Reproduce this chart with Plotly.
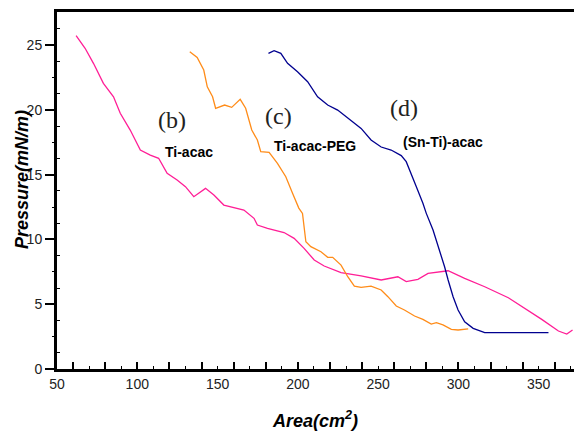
import plotly.graph_objects as go

# Ti-acac (b) - magenta
b_x = [61.9, 67.5, 72.7, 78.9, 85.2, 89.4, 95.6, 101.9, 108.1, 113.3, 118.6, 124.8, 130.0, 135.2,
       142.5, 147.7, 153.9, 160.2, 166.4, 172.7, 174.8, 181.1, 191.4, 197.7, 203.9, 210.2, 216.4,
       226.9, 239.4, 251.9, 262.3, 267.5, 274.8, 281.1, 293.6, 303.9, 316.4, 331.1, 341.4, 351.9,
       362.3, 367.5, 371.1]
b_y = [25.72, 24.75, 23.59, 22.04, 21.01, 19.73, 18.44, 16.90, 16.51, 16.26, 15.10, 14.58, 14.07, 13.30,
       13.94, 13.43, 12.65, 12.48, 12.27, 11.63, 11.11, 10.86, 10.53, 10.08, 9.31, 8.41, 7.95,
       7.43, 7.18, 6.87, 7.12, 6.74, 6.92, 7.38, 7.58, 7.00, 6.35, 5.50, 4.68, 3.83,
       2.93, 2.70, 3.01]

# Ti-acac-PEG (c) - orange
c_x = [132.7, 137.3, 141.4, 143.6, 146.9, 148.8, 154.4, 158.8, 164.1, 167.5, 171.3, 174.8, 176.9,
       182.1, 187.3, 192.5, 196.7, 200.6, 202.9, 205.0, 208.1, 214.4, 218.6, 221.7, 226.9, 231.1,
       235.2, 239.4, 245.6, 251.9, 256.1, 261.3, 266.4, 272.7, 277.9, 283.1, 286.3, 290.4, 295.6,
       299.8, 306.1]
c_y = [24.48, 24.04, 23.07, 21.78, 21.01, 20.12, 20.37, 20.19, 20.81, 20.12, 18.44, 17.67, 16.77,
       16.72, 15.87, 14.84, 13.56, 12.42, 12.01, 9.82, 9.44, 9.05, 8.62, 8.62, 8.02, 7.12,
       6.40, 6.30, 6.40, 6.10, 5.58, 4.86, 4.55, 4.09, 3.83, 3.47, 3.57, 3.40, 3.06,
       3.01, 3.09]

# (Sn-Ti)-acac (d) - navy
d_x = [181.7, 185.2, 189.4, 193.6, 199.8, 206.1, 212.3, 218.6, 224.8, 233.1, 239.4, 245.6, 251.9,
       258.1, 264.4, 267.5, 270.6, 273.8, 277.9, 280.0, 284.2, 288.3, 291.4, 293.6, 296.7, 299.8,
       303.9, 309.2, 316.4, 356.1]
d_y = [24.36, 24.56, 24.36, 23.59, 22.94, 22.17, 21.01, 20.37, 19.98, 19.21, 18.57, 17.67, 17.13,
       16.90, 16.47, 16.00, 15.10, 14.07, 12.79, 12.01, 10.73, 9.18, 7.89, 6.87, 5.58, 4.55,
       3.65, 3.14, 2.80, 2.80]

x_labels = [50, 100, 150, 200, 250, 300, 350]
x_major_ticks = list(range(60, 361, 20))
x_minor_ticks = list(range(70, 371, 20))
y_labels = [0, 5, 10, 15, 20, 25]
y_mid_ticks = [2.5, 7.5, 12.5, 17.5, 22.5]
y_small_ticks = [1.25, 3.75, 6.25, 8.75, 11.25, 13.75, 16.25, 18.75, 21.25, 23.75, 26.25]

XR = [50, 372]
YR = [0, 27.55]

fig = go.Figure()
fig.add_trace(go.Scatter(x=b_x, y=b_y, mode="lines", line=dict(color="#ff1e96", width=1.3)))
fig.add_trace(go.Scatter(x=c_x, y=c_y, mode="lines", line=dict(color="#ff8c19", width=1.3)))
fig.add_trace(go.Scatter(x=d_x, y=d_y, mode="lines", line=dict(color="#00008f", width=1.3)))
fig.add_trace(go.Scatter(x=[], y=[], xaxis="x2", yaxis="y2", hoverinfo="skip"))

tickfont = dict(family="Arial, Liberation Sans", size=14, color="#222")

fig.update_layout(
    width=574, height=436,
    margin=dict(l=57, r=0, t=12, b=67),
    plot_bgcolor="white", paper_bgcolor="white",
    showlegend=False,
    xaxis=dict(range=XR, showline=True, linewidth=2.5, linecolor="black", mirror=True,
               tickvals=x_labels, ticks="", showgrid=False, zeroline=False,
               tickfont=tickfont,
               title=dict(text="<b><i>Area(cm<sup>2</sup>)</i></b>",
                          font=dict(family="Arial, Liberation Sans", size=18, color="black"),
                          standoff=24)),
    xaxis2=dict(range=XR, overlaying="x", anchor="y2", side="bottom", showline=False,
                tickvals=x_major_ticks, ticks="inside", ticklen=7, tickwidth=1.5, tickcolor="black",
                minor=dict(tickvals=x_minor_ticks, ticks="inside", ticklen=3, tickwidth=1.2, tickcolor="black"),
                showticklabels=False, showgrid=False, zeroline=False),
    yaxis=dict(range=YR, showline=True, linewidth=3, linecolor="black",
               tickvals=y_labels, ticks="outside", ticklen=9, tickwidth=1.5, tickcolor="black",
               minor=dict(tickvals=y_small_ticks, ticks="inside", ticklen=3, tickwidth=1, tickcolor="black"),
               showgrid=False, zeroline=False, tickfont=tickfont),
    yaxis2=dict(range=YR, overlaying="y", anchor="x2", side="left", showline=False,
                tickvals=y_mid_ticks, ticks="outside", ticklen=4, tickwidth=1.2, tickcolor="black",
                showticklabels=False, showgrid=False, zeroline=False),
)

L, R, T, B = 57, 574, 12, 369


def px2paper(px, py):
    return (px - L) / (R - L), (B - py) / (B - T)


serif = dict(family="Liberation Serif, DejaVu Serif", size=24, color="#222")
bold = dict(family="Arial, Liberation Sans", size=14, color="black")
ann = [
    ("(b)", 172, 120, serif), ("<b>Ti-acac</b>", 189, 152, bold),
    ("(c)", 278, 116, serif), ("<b>Ti-acac-PEG</b>", 315, 146, bold),
    ("(d)", 404, 108, serif), ("<b>(Sn-Ti)-acac</b>", 443, 142, bold),
]
for text, px, py, font in ann:
    ax, ay = px2paper(px, py)
    fig.add_annotation(text=text, x=ax, y=ay, xref="paper", yref="paper",
                       showarrow=False, font=font, xanchor="center", yanchor="middle")

tx, ty = px2paper(22, 180)
fig.add_annotation(text="<b><i>Pressure(mN/m)</i></b>", x=tx, y=ty, xref="paper", yref="paper",
                   showarrow=False, textangle=-90, xanchor="center", yanchor="middle",
                   font=dict(family="Arial, Liberation Sans", size=18, color="black"))

fig.write_html("out.html")
